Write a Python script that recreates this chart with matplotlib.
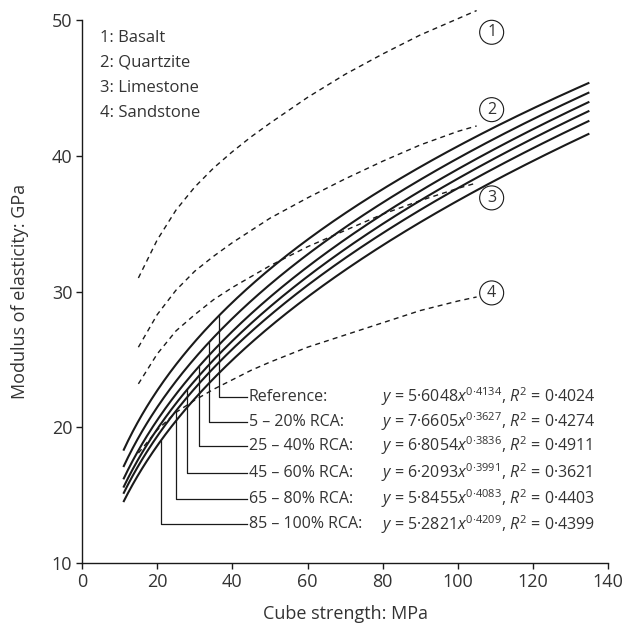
import numpy as np
import matplotlib
matplotlib.use("Agg")
import matplotlib.pyplot as plt

plt.rcParams["font.family"] = ["Open Sans", "DejaVu Sans"]
plt.rcParams["mathtext.fontset"] = "custom"
plt.rcParams["mathtext.rm"] = "Open Sans"
plt.rcParams["mathtext.it"] = "Open Sans:italic"

TXT = "#333333"
INK = "#1a1a1a"

# fitted power curves E = a * fc^b (coefficients as printed on the chart)
fit_labels = ["Reference:", "5 – 20% RCA:", "25 – 40% RCA:", "45 – 60% RCA:",
              "65 – 80% RCA:", "85 – 100% RCA:"]
fit_a = [5.6048, 7.6605, 6.8054, 6.2093, 5.8455, 5.2821]
fit_b = [0.4134, 0.3627, 0.3836, 0.3991, 0.4083, 0.4209]
fit_a_txt = ["5·6048", "7·6605", "6·8054", "6·2093", "5·8455", "5·2821"]
fit_b_txt = ["0·4134", "0·3627", "0·3836", "0·3991", "0·4083", "0·4209"]
fit_r2_txt = ["0·4024", "0·4274", "0·4911", "0·3621", "0·4403", "0·4399"]
fit_range = (11, 135)

# aggregate-type curves
agg_names = ["1: Basalt", "2: Quartzite", "3: Limestone", "4: Sandstone"]
agg_x = [15, 20, 25, 30, 35, 40, 45, 50, 60, 70, 80, 90, 100, 105]
basalt = [31.0, 33.8, 36.0, 37.7, 39.1, 40.3, 41.4, 42.4, 44.3, 46.0, 47.5, 48.9, 50.1, 50.7]
quartzite = [25.9, 28.3, 30.1, 31.5, 32.6, 33.6, 34.5, 35.4, 36.9, 38.3, 39.6, 40.8, 41.8, 42.2]
limestone = [23.2, 25.4, 27.1, 28.3, 29.4, 30.3, 31.1, 31.9, 33.3, 34.5, 35.7, 36.7, 37.6, 38.0]
sandstone = [18.1, 19.8, 21.1, 22.0, 22.8, 23.5, 24.2, 24.8, 25.9, 26.8, 27.7, 28.6, 29.3, 29.6]
agg_series = [basalt, quartzite, limestone, sandstone]
# vertical offset of each circled number from its curve end
marker_dy = [-1.6, 1.2, -1.1, 0.3]

# leader lines: x where each leader meets a curve, y of the label row
leader_x = [36.5, 33.7, 31.0, 28.0, 24.9, 20.9]
label_y = [22.25, 20.4, 18.65, 16.65, 14.75, 12.85]

fig = plt.figure(figsize=(6.28, 6.27), dpi=100)
ax = fig.add_axes([0.1306, 0.102, 0.8378, 0.866])

xs = np.linspace(fit_range[0], fit_range[1], 300)
for a, b in zip(fit_a, fit_b):
    ax.plot(xs, a * xs ** b, color=INK, lw=1.5, solid_capstyle="butt")

for ys in agg_series:
    ax.plot(agg_x, ys, color=INK, lw=1.0, dashes=(3.6, 3.0), clip_on=False)

# circled numbers at the end of the dashed curves
for i, ys in enumerate(agg_series):
    ax.text(agg_x[-1] + 4, ys[-1] + marker_dy[i], str(i + 1),
            ha="center", va="center", fontsize=11.5, color=TXT,
            bbox=dict(boxstyle="circle,pad=0.25", fc="white", ec=INK, lw=0.8))

# leaders: i-th label goes to the i-th curve from the top
for i, (lx, ly) in enumerate(zip(leader_x, label_y)):
    vals = sorted([a * lx ** b for a, b in zip(fit_a, fit_b)], reverse=True)
    top = vals[i]
    ax.plot([lx, lx, 43.8], [top, ly, ly], color=INK, lw=0.9)
    ax.text(44.3, ly, fit_labels[i], ha="left", va="center", fontsize=11.5, color=TXT)
    eq = (r"$y$ = " + fit_a_txt[i] + r"$x^{\mathrm{" + fit_b_txt[i] + r"}}$, $R^{\mathrm{2}}$ = "
          + fit_r2_txt[i])
    ax.text(79.6, ly, eq, ha="left", va="center", fontsize=11.5, color=TXT)

for i, name in enumerate(agg_names):
    ax.text(4.8, 48.7 - i * 1.84, name, ha="left", va="center", fontsize=12, color=TXT)

ax.set_xlim(0, 140)
ax.set_ylim(10, 50)
ax.set_xticks(range(0, 141, 20))
ax.set_yticks(range(10, 51, 10))
for s in ["top", "right"]:
    ax.spines[s].set_visible(False)
for s in ["left", "bottom"]:
    ax.spines[s].set_linewidth(1.0)
    ax.spines[s].set_color(INK)
ax.tick_params(direction="out", length=4, width=1.0, colors=INK, labelsize=13,
               labelcolor=TXT, pad=3)
ax.set_xlabel("Cube strength: MPa", fontsize=13, color=TXT, labelpad=10)
ax.set_ylabel("Modulus of elasticity: GPa", fontsize=13, color=TXT, labelpad=16)

fig.savefig("out.png", dpi=100)
